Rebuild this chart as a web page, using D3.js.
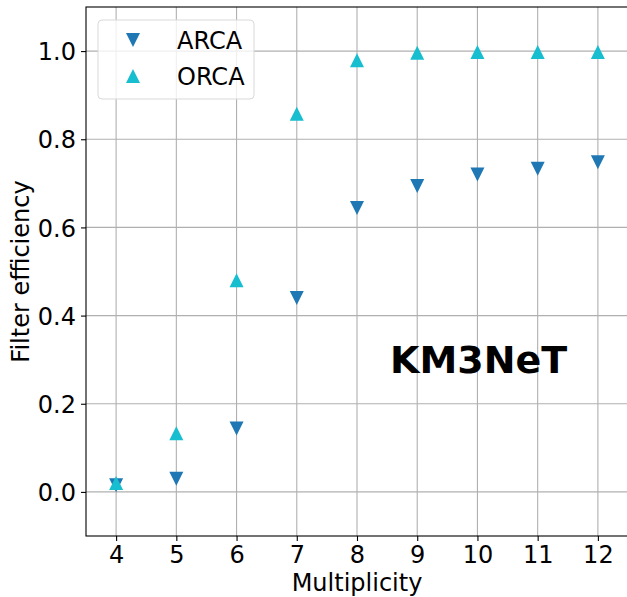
<!DOCTYPE html>
<html>
<head>
<meta charset="utf-8">
<script src="https://cdn.jsdelivr.net/npm/d3@7"></script>
<style>
  html, body { margin: 0; padding: 0; background: #fff; }
  svg { display: block; font-family: "DejaVu Sans", sans-serif; }
  .grid line { stroke: #b0b0b0; stroke-width: 1.1; }
</style>
</head>
<body>
<svg id="chart" width="627" height="597"></svg>
<script>
// values
const multiplicity = [4, 5, 6, 7, 8, 9, 10, 11, 12];
const arca = [0.015, 0.030, 0.144, 0.440, 0.644, 0.694, 0.720, 0.733, 0.748];
const orca = [0.020, 0.133, 0.480, 0.858, 0.979, 0.996, 0.998, 0.998, 0.998];
const yTicks = [0.0, 0.2, 0.4, 0.6, 0.8, 1.0];

const series = [
  { name: 'ARCA', values: arca, color: '#1f77b4', up: false },
  { name: 'ORCA', values: orca, color: '#17becf', up: true }
];

const W = 627, H = 597, M = { t: 7, r: -1, b: 61, l: 86 };
const iw = W - M.l - M.r, ih = H - M.t - M.b;
const FS = 24;

const svg = d3.select('#chart');
const g = svg.append('g').attr('transform', `translate(${M.l},${M.t})`);

const x = d3.scaleLinear().domain([3.5, 12.5]).range([0, iw]);
const y = d3.scaleLinear().domain([-0.1, 1.1]).range([ih, 0]);

// grid
const grid = g.append('g').attr('class', 'grid');
grid.selectAll('line.v').data(multiplicity).join('line')
  .attr('class', 'v')
  .attr('x1', d => x(d)).attr('x2', d => x(d))
  .attr('y1', 0).attr('y2', ih);
grid.selectAll('line.h').data(yTicks).join('line')
  .attr('class', 'h')
  .attr('x1', 0).attr('x2', iw)
  .attr('y1', d => y(d)).attr('y2', d => y(d));

// axes
const xAxis = d3.axisBottom(x).tickValues(multiplicity).tickSize(5).tickPadding(5)
  .tickFormat(d3.format('d'));
const yAxis = d3.axisLeft(y).tickValues(yTicks).tickSize(5).tickPadding(5)
  .tickFormat(d3.format('.1f'));

const gx = g.append('g').attr('transform', `translate(0,${ih})`).call(xAxis);
const gy = g.append('g').call(yAxis);
[gx, gy].forEach(a => {
  a.selectAll('text').attr('font-size', FS).attr('font-family', '"DejaVu Sans", sans-serif').attr('fill', '#000');
  a.selectAll('line').attr('stroke', '#000').attr('stroke-width', 1.1);
  a.select('.domain').remove();
});
gy.selectAll('text').attr('dy', '0.36em');

// spines
g.append('rect').attr('x', 0).attr('y', 0).attr('width', iw).attr('height', ih)
  .attr('fill', 'none').attr('stroke', '#000').attr('stroke-width', 1.1);

// markers: triangle with bbox centred on the point
function triPath(up, s) {
  const h = s / 2;
  return up ? `M0,${-h}L${h},${h}L${-h},${h}Z` : `M0,${h}L${h},${-h}L${-h},${-h}Z`;
}
series.forEach(s => {
  g.append('g').selectAll('path').data(multiplicity).join('path')
    .attr('transform', (d, i) => `translate(${x(d)},${y(s.values[i])})`)
    .attr('d', triPath(s.up, 14))
    .attr('fill', s.color);
});

// legend
const lg = svg.append('g').attr('transform', 'translate(98,20)');
lg.append('rect').attr('width', 156).attr('height', 79).attr('rx', 4)
  .attr('fill', '#fff').attr('fill-opacity', 0.8)
  .attr('stroke', '#d9d9d9').attr('stroke-width', 1);
series.forEach((s, i) => {
  const yy = 20 + i * 36;
  lg.append('path').attr('transform', `translate(35,${yy})`)
    .attr('d', triPath(s.up, 14)).attr('fill', s.color);
  lg.append('text').attr('x', 79).attr('y', yy + 8.5)
    .attr('font-size', FS).text(s.name);
});

// KM3NeT label
svg.append('text').attr('x', 390).attr('y', 373)
  .attr('font-size', 38).attr('font-weight', 'bold').text('KM3NeT');

// axis titles
svg.append('text').attr('x', M.l + x(8)).attr('y', 591)
  .attr('text-anchor', 'middle').attr('font-size', FS).text('Multiplicity');
svg.append('text').attr('transform', `translate(29,${M.t + ih / 2}) rotate(-90)`)
  .attr('text-anchor', 'middle').attr('font-size', FS).text('Filter efficiency');
</script>
</body>
</html>
